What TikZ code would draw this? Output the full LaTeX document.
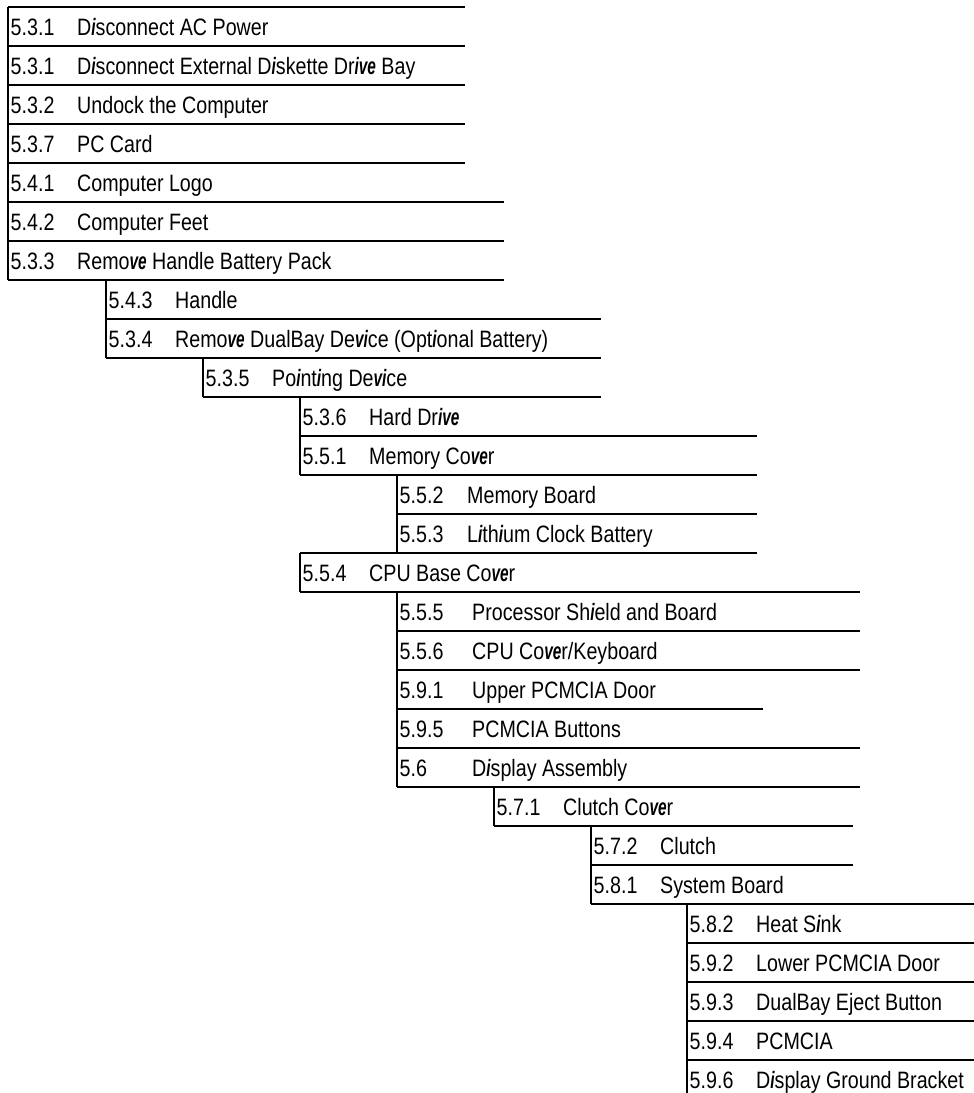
\documentclass[tikz,border=0pt]{standalone}
\usepackage{graphicx}
\usepackage{fontspec}
\setmainfont{Liberation Sans}[FakeStretch=0.83]
\newcommand{\bi}[1]{\scalebox{0.78}[1]{\bfseries\itshape #1}}

\begin{document}
\begin{tikzpicture}[
  x = 1pt, y = -1pt,
  rule/.style = {line width = 1.6pt},
  every node/.style = {anchor = base west, inner sep = 0pt,
                       font = \fontsize{23.7}{28}\selectfont},
  ]
  \useasboundingbox (0,0) rectangle (974,1093);
  \draw[rule] (8,7) -- (465,7);
  % row / left / rule from / rule to / title offset / number / title
  \foreach \k/\x/\a/\r/\o/\n/\t in {
    0/8/8/465/69/5.3.1/{D\bi{i}sconnect AC Power},
    1/8/8/465/69/5.3.1/{D\bi{i}sconnect External D\bi{i}skette Dr\bi{ive} Bay},
    2/8/8/465/69/5.3.2/{Undock the Computer},
    3/8/8/465/69/5.3.7/{PC Card},
    4/8/8/504/69/5.4.1/{Computer Logo},
    5/8/8/504/69/5.4.2/{Computer Feet},
    6/8/8/504/69/5.3.3/{Remo\bi{ve} Handle Battery Pack},
    7/106/106/601/69/5.4.3/{Handle},
    8/106/106/601/69/5.3.4/{Remo\bi{ve} DualBay De\bi{vi}ce (Opt\bi{i}onal Battery)},
    9/203/203/601/69/5.3.5/{Po\bi{i}nt\bi{i}ng De\bi{vi}ce},
    10/300/300/757/69/5.3.6/{Hard Dr\bi{ive}},
    11/300/300/757/69/5.5.1/{Memory Co\bi{ve}r},
    12/397/397/757/70/5.5.2/{Memory Board},
    13/397/300/757/70/5.5.3/{L\bi{i}th\bi{i}um Clock Battery},
    14/300/300/860/69/5.5.4/{CPU Base Co\bi{ve}r},
    15/397/397/860/75/5.5.5/{Processor Sh\bi{i}eld and Board},
    16/397/397/860/75/5.5.6/{CPU Co\bi{ve}r/Keyboard},
    17/397/397/763/75/5.9.1/{Upper PCMCIA Door},
    18/397/397/860/75/5.9.5/{PCMCIA Buttons},
    19/397/397/860/75/5.6/{D\bi{i}splay Assembly},
    20/494/494/853/69/5.7.1/{Clutch Co\bi{ve}r},
    21/591/591/853/69/5.7.2/{Clutch},
    22/591/591/974/69/5.8.1/{System Board},
    23/687/687/974/69/5.8.2/{Heat S\bi{i}nk},
    24/687/687/974/69/5.9.2/{Lower PCMCIA Door},
    25/687/687/974/69/5.9.3/{DualBay Eject Button},
    26/687/687/974/69/5.9.4/{PCMCIA},
    27/687/687/687/69/5.9.6/{D\bi{i}splay Ground Bracket}%
  }{
    \draw[rule] (\x,7+39*\k) -- (\x,46+39*\k);
    \draw[rule] (\a,46+39*\k) -- (\r,46+39*\k);
    \node (num\k) at (\x+2.5,35+39*\k) {\n};
    \node (title\k) at (\x+\o,35+39*\k) {\t};
  }
\end{tikzpicture}
\end{document}
